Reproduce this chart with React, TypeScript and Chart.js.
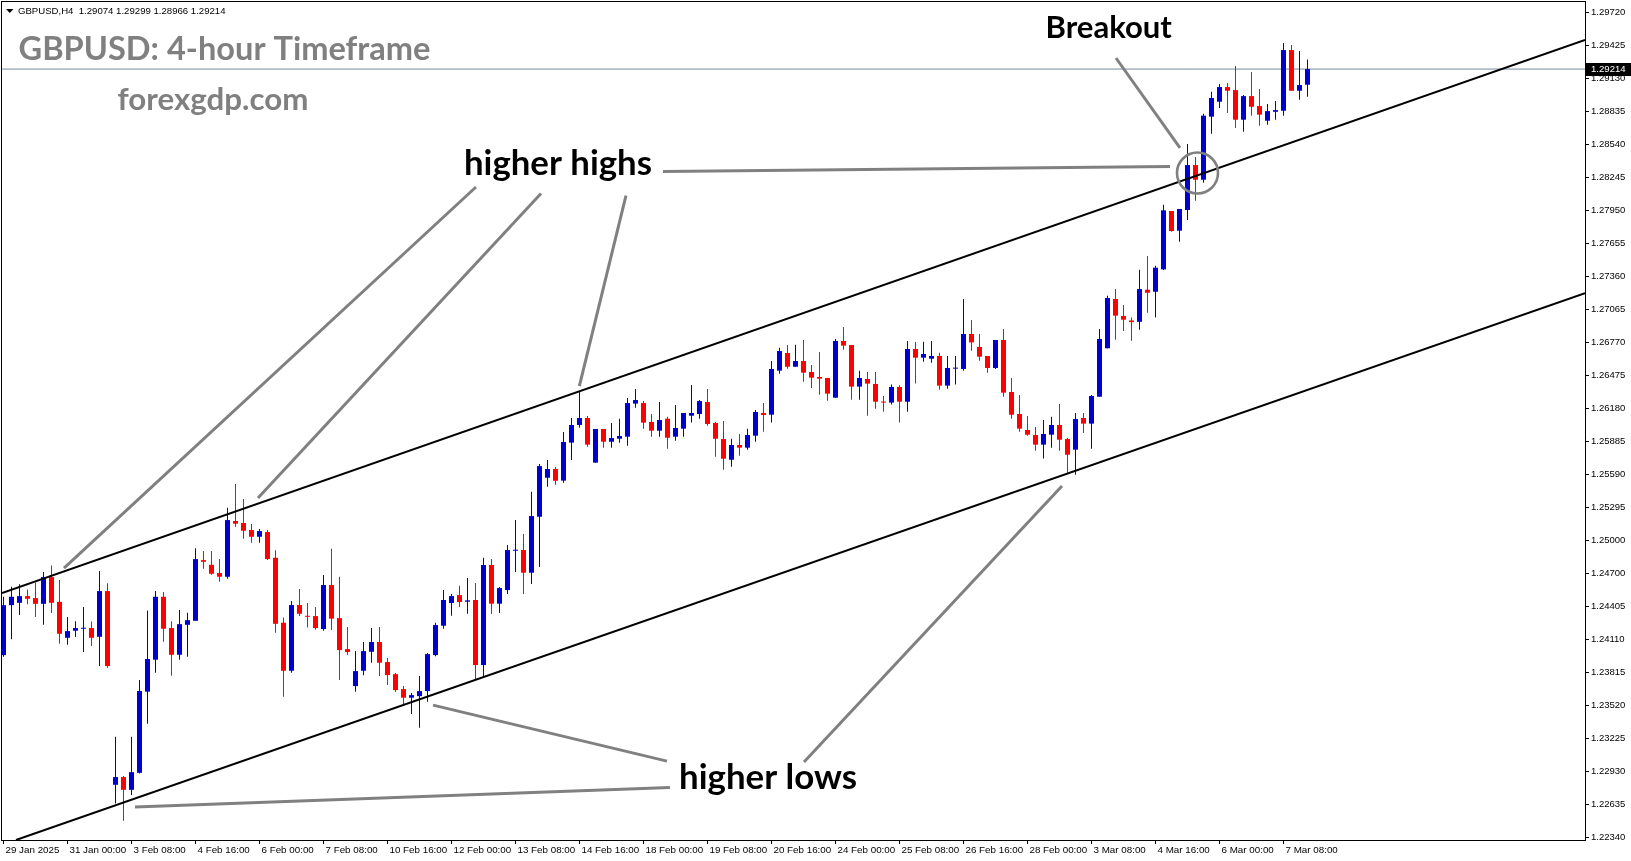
import { useEffect, useRef } from "react";
import { Chart, registerables } from "chart.js";

Chart.register(...registerables);

// ---- Candles (GBPUSD H4, bar 0 = 29 Jan 2025 16:00) ----
const OPEN = [
  1.23971, 1.24418, 1.24439, 1.24499, 1.24481, 1.2443, 1.24669, 1.24448, 1.24126, 1.24189,
  1.24207, 1.24213, 1.24135, 1.24544, 1.22811, 1.2288, 1.22766, 1.22918, 1.23644, 1.2393,
  1.24493, 1.24213, 1.23974, 1.24242, 1.24278, 1.24821, 1.24779, 1.24705, 1.24672, 1.25171,
  1.25153, 1.2509, 1.2503, 1.25072, 1.24842, 1.24261, 1.23831, 1.24419, 1.24323, 1.2432,
  1.24204, 1.24598, 1.24302, 1.24025, 1.23694, 1.23831, 1.24001, 1.24088, 1.23909, 1.23801,
  1.23667, 1.2359, 1.23604, 1.23649, 1.23971, 1.24234, 1.24437, 1.24508, 1.24449, 1.24464,
  1.23882, 1.24777, 1.24431, 1.24553, 1.24905, 1.24911, 1.24708, 1.25209, 1.25558, 1.25636,
  1.25532, 1.25872, 1.2603, 1.26092, 1.25693, 1.25994, 1.2588, 1.25907, 1.25925, 1.26221,
  1.26226, 1.26057, 1.25979, 1.26086, 1.25925, 1.25997, 1.26113, 1.26128, 1.26235, 1.26048,
  1.25904, 1.25719, 1.25851, 1.25827, 1.25934, 1.26137, 1.26122, 1.26516, 1.26674, 1.26551,
  1.26602, 1.26504, 1.26459, 1.2645, 1.26274, 1.26781, 1.26745, 1.26373, 1.26441, 1.26397,
  1.26235, 1.2623, 1.2637, 1.26238, 1.2671, 1.26632, 1.26623, 1.26647, 1.26382, 1.26534,
  1.26531, 1.26844, 1.26728, 1.26647, 1.2654, 1.2679, 1.26325, 1.26128, 1.25985, 1.2594,
  1.25854, 1.25943, 1.2603, 1.25904, 1.25809, 1.26092, 1.26042, 1.26283, 1.26716, 1.27157,
  1.27005, 1.26965, 1.26953, 1.2724, 1.27222, 1.27422, 1.27944, 1.27768, 1.27953, 1.28355,
  1.28224, 1.28788, 1.28922, 1.29053, 1.29026, 1.28761, 1.28972, 1.28883, 1.28752, 1.28832,
  1.28841, 1.29384, 1.2902, 1.29074,
];
const HIGH = [
  1.24493, 1.24582, 1.24606, 1.24559, 1.24618, 1.24714, 1.24773, 1.24642, 1.24311, 1.24275,
  1.24401, 1.24272, 1.24723, 1.24615, 1.2324, 1.22889, 1.2324, 1.23748, 1.24371, 1.24544,
  1.24535, 1.24275, 1.24374, 1.2435, 1.24928, 1.24902, 1.24902, 1.2483, 1.2529, 1.25502,
  1.25367, 1.25144, 1.25099, 1.2509, 1.2491, 1.24308, 1.24455, 1.24562, 1.24437, 1.24401,
  1.24687, 1.24923, 1.24672, 1.24222, 1.24007, 1.24088, 1.24213, 1.24222, 1.23945, 1.2381,
  1.23694, 1.23631, 1.23784, 1.23989, 1.24261, 1.24553, 1.24517, 1.24592, 1.2466, 1.24616,
  1.24842, 1.2483, 1.2458, 1.24956, 1.25179, 1.25054, 1.25433, 1.2568, 1.25716, 1.25653,
  1.25967, 1.26092, 1.26325, 1.2611, 1.25994, 1.25994, 1.26048, 1.26086, 1.26271, 1.26352,
  1.26244, 1.26128, 1.26235, 1.26104, 1.26209, 1.26137, 1.26388, 1.26253, 1.26352, 1.26057,
  1.26065, 1.25907, 1.25949, 1.25997, 1.26164, 1.26226, 1.26602, 1.26721, 1.26745, 1.26748,
  1.2679, 1.26566, 1.26683, 1.2645, 1.26799, 1.26906, 1.26745, 1.26516, 1.26504, 1.26504,
  1.26289, 1.26391, 1.26385, 1.26781, 1.26772, 1.26775, 1.26781, 1.26677, 1.26647, 1.26647,
  1.27157, 1.26969, 1.26844, 1.26647, 1.2679, 1.26889, 1.2645, 1.26298, 1.2611, 1.26012,
  1.26074, 1.26104, 1.26218, 1.25913, 1.26137, 1.26137, 1.26298, 1.26889, 1.27187, 1.27246,
  1.27103, 1.26992, 1.27419, 1.27541, 1.27455, 1.28, 1.27944, 1.27962, 1.28543, 1.28427,
  1.28814, 1.29011, 1.2908, 1.29089, 1.29241, 1.28981, 1.29187, 1.29035, 1.28901, 1.28928,
  1.29447, 1.29429, 1.29375, 1.29299,
];
const LOW = [
  1.23957, 1.24114, 1.24329, 1.24427, 1.24311, 1.24242, 1.24347, 1.24072, 1.24064, 1.24132,
  1.23998, 1.24052, 1.23873, 1.23858, 1.22644, 1.22489, 1.22719, 1.22912, 1.23357, 1.23814,
  1.2409, 1.23787, 1.2393, 1.23957, 1.24278, 1.24744, 1.2469, 1.24627, 1.24654, 1.2512,
  1.25012, 1.24977, 1.24977, 1.24821, 1.24171, 1.23599, 1.23813, 1.2432, 1.24219, 1.24198,
  1.24189, 1.24195, 1.23748, 1.23971, 1.23643, 1.23792, 1.23903, 1.23784, 1.23703, 1.2364,
  1.23533, 1.23444, 1.23321, 1.23554, 1.23962, 1.24207, 1.24323, 1.24401, 1.24341, 1.23754,
  1.23772, 1.24338, 1.24347, 1.24517, 1.24714, 1.24517, 1.24607, 1.24759, 1.25478, 1.25495,
  1.25514, 1.25716, 1.26006, 1.25836, 1.25693, 1.25827, 1.25827, 1.25872, 1.25845, 1.26185,
  1.25997, 1.25925, 1.25925, 1.25818, 1.25889, 1.25925, 1.26051, 1.26086, 1.26024, 1.25746,
  1.2563, 1.25657, 1.25755, 1.25809, 1.2588, 1.2597, 1.26051, 1.26489, 1.26534, 1.26551,
  1.26417, 1.26361, 1.26301, 1.26247, 1.26274, 1.26704, 1.26256, 1.26256, 1.26113, 1.26176,
  1.26149, 1.26212, 1.26051, 1.26149, 1.264, 1.26596, 1.26587, 1.26346, 1.26355, 1.26391,
  1.26516, 1.26695, 1.26605, 1.26498, 1.26531, 1.26283, 1.26086, 1.2597, 1.25934, 1.258,
  1.25729, 1.25827, 1.258, 1.25603, 1.25585, 1.25958, 1.25818, 1.26283, 1.26716, 1.26793,
  1.26871, 1.26784, 1.26882, 1.27034, 1.26992, 1.27416, 1.27759, 1.27669, 1.27863, 1.28036,
  1.28197, 1.28636, 1.28865, 1.2882, 1.28686, 1.28653, 1.28797, 1.28707, 1.28716, 1.28761,
  1.28797, 1.2902, 1.2894, 1.28966,
];
const CLOSE = [
  1.24418, 1.24493, 1.24499, 1.24475, 1.2443, 1.24669, 1.24439, 1.24162, 1.24186, 1.24213,
  1.2421, 1.24126, 1.24544, 1.23873, 1.2288, 1.22766, 1.22924, 1.2365, 1.23936, 1.24493,
  1.24207, 1.23974, 1.24248, 1.24284, 1.2483, 1.24806, 1.24699, 1.24672, 1.25179, 1.25147,
  1.25084, 1.2503, 1.25081, 1.2483, 1.24251, 1.23831, 1.24419, 1.24341, 1.24314, 1.24213,
  1.24598, 1.24297, 1.24016, 1.23998, 1.23828, 1.24007, 1.24088, 1.23903, 1.23792, 1.23658,
  1.2359, 1.23613, 1.23649, 1.2398, 1.2424, 1.24464, 1.24499, 1.24446, 1.24461, 1.23882,
  1.24777, 1.24431, 1.24571, 1.24911, 1.24914, 1.24708, 1.25215, 1.25662, 1.25636, 1.25531,
  1.25878, 1.2603, 1.26092, 1.25854, 1.25994, 1.2588, 1.25913, 1.25931, 1.26226, 1.26253,
  1.26051, 1.25979, 1.26074, 1.25916, 1.26003, 1.26137, 1.26137, 1.26244, 1.26039, 1.25907,
  1.25728, 1.25851, 1.25827, 1.2594, 1.26146, 1.26119, 1.26531, 1.26692, 1.26551, 1.26602,
  1.26498, 1.26453, 1.26444, 1.2631, 1.26781, 1.2674, 1.26373, 1.2645, 1.264, 1.26238,
  1.2623, 1.2637, 1.26238, 1.2671, 1.26632, 1.26665, 1.26647, 1.26382, 1.2654, 1.2654,
  1.26844, 1.26769, 1.26641, 1.2654, 1.2679, 1.26319, 1.26122, 1.25997, 1.25943, 1.25854,
  1.25949, 1.2603, 1.25898, 1.25764, 1.26083, 1.26042, 1.26289, 1.26799, 1.27166, 1.27008,
  1.26972, 1.2695, 1.27246, 1.27213, 1.27437, 1.2795, 1.27765, 1.27962, 1.28355, 1.28224,
  1.28797, 1.28955, 1.29053, 1.2902, 1.28761, 1.28972, 1.28877, 1.28806, 1.28838, 1.28847,
  1.29384, 1.2902, 1.29071, 1.29214,
];

// ---- Axes ----
const X_TICK_INDEX = [0, 8, 16, 24, 32, 40, 48, 56, 64, 72, 80, 88, 96, 104, 112, 120, 128, 136, 144, 152, 160];
const X_TICK_LABELS = [
  "29 Jan 2025", "31 Jan 00:00", "3 Feb 08:00", "4 Feb 16:00", "6 Feb 00:00", "7 Feb 08:00",
  "10 Feb 16:00", "12 Feb 00:00", "13 Feb 08:00", "14 Feb 16:00", "18 Feb 00:00", "19 Feb 08:00",
  "20 Feb 16:00", "24 Feb 00:00", "25 Feb 08:00", "26 Feb 16:00", "28 Feb 00:00", "3 Mar 08:00",
  "4 Mar 16:00", "6 Mar 00:00", "7 Mar 08:00",
];
const Y_TICK_VALUES = [
  1.2972, 1.29425, 1.2913, 1.28835, 1.2854, 1.28245, 1.2795, 1.27655, 1.2736, 1.27065, 1.2677,
  1.26475, 1.2618, 1.25885, 1.2559, 1.25295, 1.25, 1.247, 1.24405, 1.2411, 1.23815, 1.2352,
  1.23225, 1.2293, 1.22635, 1.2234,
];
const Y_TICK_LABELS = [
  "1.29720", "1.29425", "1.29130", "1.28835", "1.28540", "1.28245", "1.27950", "1.27655",
  "1.27360", "1.27065", "1.26770", "1.26475", "1.26180", "1.25885", "1.25590", "1.25295",
  "1.25000", "1.24700", "1.24405", "1.24110", "1.23815", "1.23520", "1.23225", "1.22930",
  "1.22635", "1.22340",
];
const X_MIN = -0.1875;
const X_MAX = 197.6875;
const Y_MIN = 1.22317;
const Y_MAX = 1.29814;

// ---- Drawn objects (data coordinates: bar index, price) ----
const CHANNEL_UPPER = [{ x: -0.1875, y: 1.24526 }, { x: 197.6875, y: 1.29474 }];
const CHANNEL_LOWER = [{ x: 1.5625, y: 1.22317 }, { x: 197.6875, y: 1.2721 }];
const POINTERS = [
  [59.06, 1.28159, 7.56, 1.2475],
  [67.19, 1.28101, 31.81, 1.25376],
  [77.81, 1.28082, 71.98, 1.26378],
  [82.44, 1.28297, 145.81, 1.28342],
  [139.06, 1.29313, 147.06, 1.28508],
  [83.31, 1.22786, 16.44, 1.22612],
  [82.94, 1.23023, 53.69, 1.23524],
  [100.06, 1.23014, 132.31, 1.25484],
];
const BREAKOUT_CIRCLE = [{ x: 149.25, y: 1.28284 }];
const ANNOTATION_TEXTS = [
  { text: "higher highs", x: 57.56, y: 1.28266, w: 23.5 },
  { text: "Breakout", x: 130.25, y: 1.29496, w: 15.81 },
  { text: "higher lows", x: 84.44, y: 1.22773, w: 22.25 },
];

const BULL = "#0000CD";
const BEAR = "#FF0000";
const SMALL_FONT = '"Liberation Sans", Arial, sans-serif';
const BIG_FONT = 'Lato, "Open Sans", sans-serif';

const overlayPlugin = {
  id: "overlay",
  afterDraw(chart: any) {
    const { ctx, chartArea: a, scales } = chart;
    const xs = scales.x;
    const ys = scales.y;
    ctx.save();
    // frame
    ctx.strokeStyle = "#000";
    ctx.lineWidth = 1;
    ctx.strokeRect(a.left - 0.5, a.top - 0.5, a.right - a.left + 1, a.bottom - a.top + 1);

    const fit = (text: string, family: string, width: number) => {
      ctx.font = `bold 100px ${family}`;
      const w = ctx.measureText(text).width;
      const size = (100 * width) / w;
      ctx.font = `bold ${size}px ${family}`;
    };
    ctx.textAlign = "left";
    ctx.textBaseline = "alphabetic";

    // header: small symbol line
    ctx.fillStyle = "#000";
    ctx.beginPath();
    ctx.moveTo(6, 9);
    ctx.lineTo(13.5, 9);
    ctx.lineTo(9.75, 13);
    ctx.closePath();
    ctx.fill();
    const n = CLOSE.length - 1;
    ctx.font = `9.6px ${SMALL_FONT}`;
    ctx.fillText(
      `GBPUSD,H4  ${OPEN[n].toFixed(5)} ${HIGH[n].toFixed(5)} ${LOW[n].toFixed(5)} ${CLOSE[n].toFixed(5)}`,
      18,
      14
    );

    // watermark titles
    ctx.fillStyle = "#808080";
    fit("GBPUSD: 4-hour Timeframe", BIG_FONT, 412);
    ctx.fillText("GBPUSD: 4-hour Timeframe", 18.5, 59.5);
    fit("forexgdp.com", BIG_FONT, 191);
    ctx.fillText("forexgdp.com", 117.5, 110);

    // annotation texts
    ctx.fillStyle = "#000";
    for (const t of ANNOTATION_TEXTS) {
      const px = xs.getPixelForValue(t.x);
      const pw = xs.getPixelForValue(t.x + t.w) - px;
      fit(t.text, BIG_FONT, pw);
      ctx.fillText(t.text, px, ys.getPixelForValue(t.y));
    }

    // current price label
    const py = ys.getPixelForValue(CLOSE[n]);
    ctx.fillStyle = "#000";
    ctx.fillRect(a.right + 1, Math.round(py) - 6, 46, 13);
    ctx.fillStyle = "#fff";
    ctx.font = `9.6px ${SMALL_FONT}`;
    ctx.textBaseline = "middle";
    ctx.fillText(CLOSE[n].toFixed(5), a.right + 6, Math.round(py) + 0.5);
    ctx.restore();
  },
};

export default function App() {
  const ref = useRef<HTMLCanvasElement | null>(null);
  useEffect(() => {
    document.body.style.margin = "0";
    const canvas = ref.current;
    if (!canvas) return;
    const idx = OPEN.map((_, i) => i);
    const colors = idx.map((i) => (CLOSE[i] >= OPEN[i] ? BULL : BEAR));
    const wickData = idx.map((i) => ({ x: i, y: [LOW[i], HIGH[i]] }));
    const bodyData = idx.map((i) => ({
      x: i,
      y: [Math.min(OPEN[i], CLOSE[i]), Math.max(OPEN[i], CLOSE[i])],
    }));
    const last = CLOSE[CLOSE.length - 1];

    const lineDs = (data: any[], color: string, width: number, order: number) => ({
      type: "line",
      data,
      borderColor: color,
      borderWidth: width,
      pointRadius: 0,
      tension: 0,
      fill: false,
      order,
    });

    const datasets: any[] = [
      lineDs([{ x: X_MIN - 1, y: last }, { x: X_MAX + 1, y: last }], "#7A8898", 1, 5),
      {
        type: "bar",
        data: wickData,
        backgroundColor: colors,
        barThickness: 1,
        grouped: false,
        borderWidth: 0,
        inflateAmount: 0,
        order: 4,
      },
      {
        type: "bar",
        data: bodyData,
        backgroundColor: colors,
        barThickness: 5,
        grouped: false,
        borderWidth: 0,
        inflateAmount: 0,
        minBarLength: 1,
        order: 3,
      },
      lineDs(CHANNEL_UPPER, "#000", 2, 2),
      lineDs(CHANNEL_LOWER, "#000", 2, 2),
      ...POINTERS.map((p) =>
        lineDs([{ x: p[0], y: p[1] }, { x: p[2], y: p[3] }], "#808080", 3, 1)
      ),
      {
        type: "line",
        data: BREAKOUT_CIRCLE,
        showLine: false,
        pointRadius: 20.5,
        pointBorderWidth: 2.6,
        pointBorderColor: "#808080",
        pointBackgroundColor: "rgba(0,0,0,0)",
        order: 1,
      },
    ];

    const noPad = (s: any) => {
      s.paddingLeft = 0;
      s.paddingRight = 0;
      s.paddingTop = 0;
      s.paddingBottom = 0;
    };

    const chart = new Chart(canvas, {
      type: "bar",
      data: { datasets },
      options: {
        responsive: false,
        animation: false,
        devicePixelRatio: 1,
        events: [],
        layout: { autoPadding: false, padding: { left: 2, top: 2, right: 0, bottom: 0 } },
        plugins: { legend: { display: false }, tooltip: { enabled: false } },
        scales: {
          x: {
            type: "linear",
            position: "bottom",
            offset: false,
            min: X_MIN,
            max: X_MAX,
            afterFit: (s: any) => {
              s.height = 21;
              noPad(s);
            },
            afterBuildTicks: (s: any) => {
              s.ticks = X_TICK_INDEX.map((v) => ({ value: v }));
            },
            ticks: {
              autoSkip: false,
              maxRotation: 0,
              minRotation: 0,
              align: "start",
              labelOffset: 2,
              padding: 0,
              color: "#000",
              font: { family: SMALL_FONT, size: 9.8 },
              callback: (_v: any, i: number) => X_TICK_LABELS[i],
            },
            grid: { offset: false, drawOnChartArea: false, drawTicks: true, tickLength: 4, color: "#000" },
            border: { display: true, color: "#000" },
          },
          y: {
            type: "linear",
            position: "right",
            min: Y_MIN,
            max: Y_MAX,
            afterFit: (s: any) => {
              s.width = 46;
              noPad(s);
            },
            afterBuildTicks: (s: any) => {
              s.ticks = Y_TICK_VALUES.map((v) => ({ value: v }));
            },
            ticks: {
              autoSkip: false,
              padding: 2,
              color: "#000",
              font: { family: SMALL_FONT, size: 9.5 },
              callback: (_v: any, i: number) => Y_TICK_LABELS[i],
            },
            grid: { drawOnChartArea: false, drawTicks: true, tickLength: 4, color: "#000" },
            border: { display: true, color: "#000" },
          },
        },
      } as any,
      plugins: [overlayPlugin],
    } as any);
    return () => chart.destroy();
  }, []);
  return (
    <canvas
      ref={ref}
      width={1631}
      height={861}
      style={{ display: "block", width: "1631px", height: "861px" }}
    />
  );
}
